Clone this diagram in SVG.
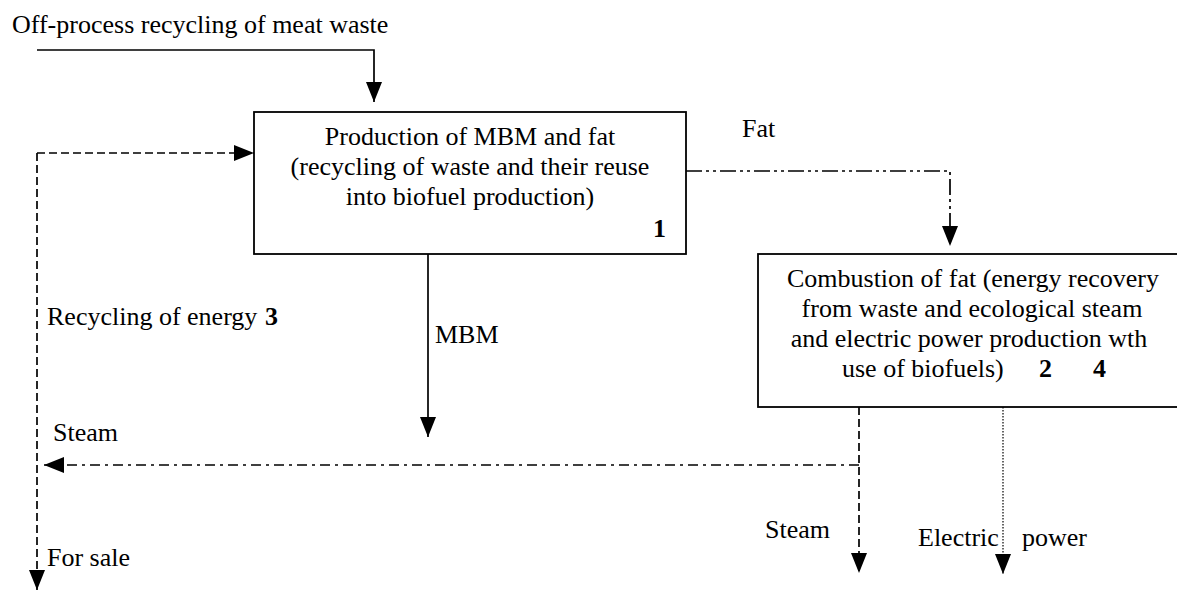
<svg xmlns="http://www.w3.org/2000/svg" width="1177" height="591" viewBox="0 0 1177 591" font-family="'Liberation Serif', 'DejaVu Serif', serif" font-size="26">
<style>
  text { font-family: 'Liberation Serif', 'DejaVu Serif', serif; font-size: 26px; fill: #000; }
  .b { font-weight: bold; }
  .box { fill: #fff; stroke: #000; stroke-width: 1.8; }
  .ln { fill: none; stroke: #000; stroke-width: 1.7; }
  .dash { stroke-dasharray: 8 4; }
  .dd { stroke-dasharray: 16 4 3 4 3 4; }
  .dot1 { stroke-dasharray: 10 5 3 5; }
  .dot { stroke-dasharray: 1.5 1.5; stroke-width: 1.2; }
</style>
<defs>
  <marker id="ah" markerUnits="userSpaceOnUse" markerWidth="20" markerHeight="16" viewBox="0 0 20 16" refX="20" refY="8" orient="auto">
    <path d="M0,0 L20,8 L0,16 z" fill="#000"/>
  </marker>
</defs>
<text x="12" y="33">Off-process recycling of meat waste</text>
<g id="connectors">
  <path class="ln" d="M37,50 L374,50 L374,102" marker-end="url(#ah)"/>
  <path class="ln dash" d="M37,153 L254,153" marker-end="url(#ah)"/>
  <path class="ln dash" d="M37,153 L37,590" marker-end="url(#ah)"/>
  <path class="ln dd" d="M686,171 L950,171 L950,246" marker-end="url(#ah)"/>
  <path class="ln" d="M428,254 L428,437" marker-end="url(#ah)"/>
  <path class="ln dot1" d="M859,465 L44,465" marker-end="url(#ah)"/>
  <path class="ln dash" d="M859,407 L859,573" marker-end="url(#ah)"/>
  <path class="ln dot" d="M1003,407 L1003,574" marker-end="url(#ah)"/>
</g>
<g id="node1">
  <rect class="box" x="254" y="112" width="432" height="142"/>
  <text x="470" y="145" text-anchor="middle">Production of MBM and fat</text>
  <text x="470" y="175" text-anchor="middle">(recycling of waste and their reuse</text>
  <text x="470" y="205" text-anchor="middle">into biofuel production)</text>
  <text class="b" x="653" y="237">1</text>
</g>
<g id="node2">
  <rect class="box" x="758" y="254" width="422" height="153"/>
  <text x="973" y="287" text-anchor="middle">Combustion of fat (energy recovery</text>
  <text x="972" y="317" text-anchor="middle">from waste and ecological steam</text>
  <text x="969" y="347" text-anchor="middle">and electric power production wth</text>
  <text x="842" y="377">use of biofuels)<tspan class="b" x="1039">2</tspan><tspan class="b" x="1093">4</tspan></text>
</g>
<g id="labels">
  <text x="742" y="137">Fat</text>
  <text x="47" y="325">Recycling of energy<tspan class="b" x="265">3</tspan></text>
  <text x="435" y="343">MBM</text>
  <text x="53" y="441">Steam</text>
  <text x="47" y="566">For sale</text>
  <text x="765" y="538">Steam</text>
  <text x="918" y="546">Electric</text>
  <text x="1022" y="546">power</text>
</g>
</svg>
